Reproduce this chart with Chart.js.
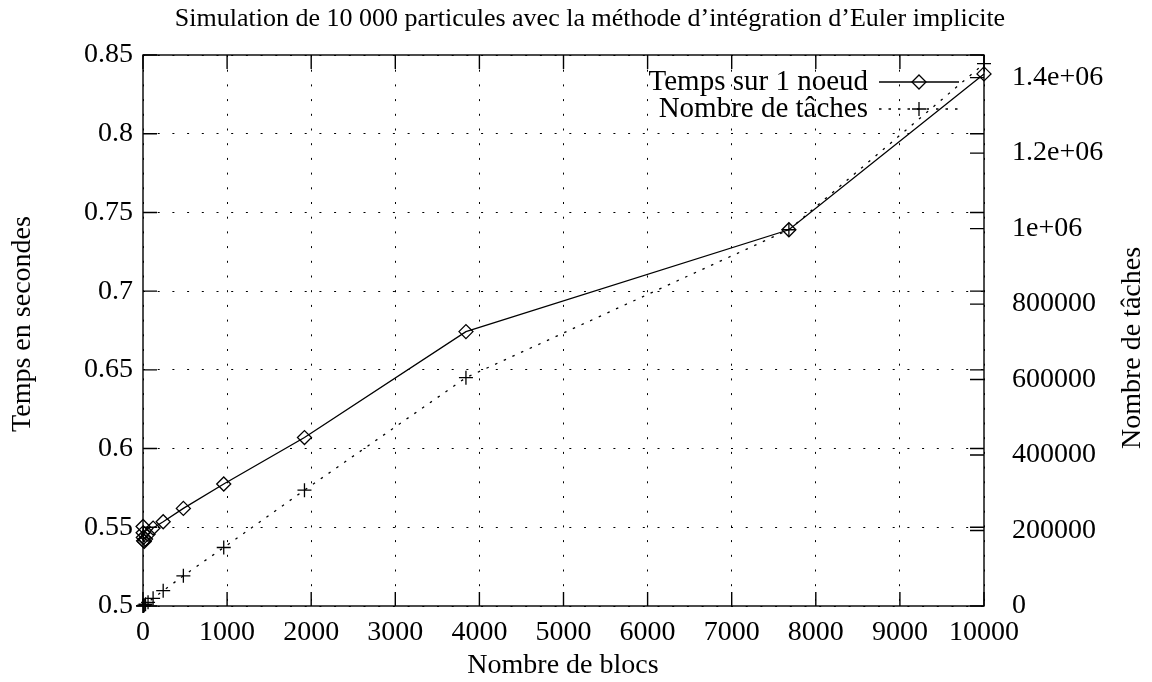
<!DOCTYPE html>
<html>
<head>
<meta charset="utf-8">
<script src="https://cdn.jsdelivr.net/npm/chart.js@4/dist/chart.umd.min.js"></script>
<style>
  html, body { margin: 0; padding: 0; background: #fff; }
  #plot { display: block; }
</style>
</head>
<body>
<canvas id="plot" width="1152" height="682"></canvas>
<script>
// Euler implicite, 10 000 particules : temps sur un noeud et nombre de tâches
const BLOCKS = [1, 2, 4, 8, 15, 30, 60, 120, 240, 480, 960, 1920, 3840, 7680, 10000];
const TIME_1NODE = [0.5505, 0.5465, 0.5435, 0.5415, 0.541, 0.5425, 0.5455, 0.5495, 0.5535, 0.562, 0.5775, 0.607, 0.6743, 0.739, 0.838];
const TASKS = [150, 300, 600, 1200, 2300, 4700, 9800, 20400, 40500, 80000, 155000, 307000, 605000, 997000, 1437000];

const X_TICKS = [0, 1000, 2000, 3000, 4000, 5000, 6000, 7000, 8000, 9000, 10000];
const Y_TICKS = [0.5, 0.55, 0.6, 0.65, 0.7, 0.75, 0.8, 0.85];
const Y2_TICKS = [0, 200000, 400000, 600000, 800000, 1000000, 1200000, 1400000];

const TITLE = 'Simulation de 10 000 particules avec la méthode d’intégration d’Euler implicite';
const X_LABEL = 'Nombre de blocs';
const Y_LABEL = 'Temps en secondes';
const Y2_LABEL = 'Nombre de tâches';
const SERIES_LABELS = ['Temps sur 1 noeud', 'Nombre de tâches'];

const FONT = '"Liberation Serif", "DejaVu Serif", serif';
const FONT_SIZE = 28;
const TICK_LEN = 14;

function fmtY2(v) {
  if (v >= 1e6) return String(+(v / 1e6).toFixed(1)) + 'e+06';
  return String(v);
}

function setTicks(list) {
  return scale => { scale.ticks = list.map(v => ({ value: v })); };
}

function diamond(ctx, x, y, r) {
  ctx.beginPath();
  ctx.moveTo(x, y - r); ctx.lineTo(x + r, y); ctx.lineTo(x, y + r); ctx.lineTo(x - r, y);
  ctx.closePath();
  ctx.stroke();
}

function cross(ctx, x, y, r) {
  ctx.beginPath();
  ctx.moveTo(x - r, y); ctx.lineTo(x + r, y);
  ctx.moveTo(x, y - r); ctx.lineTo(x, y + r);
  ctx.stroke();
}

// frame, inward tick marks, titles and key, drawn the gnuplot way
const gnuplotFrame = {
  id: 'gnuplotFrame',
  afterDatasetsDraw(chart) {
    const { ctx, chartArea: a, scales } = chart;
    ctx.save();
    ctx.strokeStyle = '#000';
    ctx.lineWidth = 1.4;
    ctx.setLineDash([]);
    ctx.strokeRect(a.left, a.top, a.right - a.left, a.bottom - a.top);

    ctx.beginPath();
    X_TICKS.forEach(v => {
      const px = scales.x.getPixelForValue(v);
      ctx.moveTo(px, a.bottom); ctx.lineTo(px, a.bottom - TICK_LEN);
      ctx.moveTo(px, a.top); ctx.lineTo(px, a.top + TICK_LEN);
    });
    Y_TICKS.forEach(v => {
      const py = scales.y.getPixelForValue(v);
      ctx.moveTo(a.left, py); ctx.lineTo(a.left + TICK_LEN, py);
      ctx.moveTo(a.right, py); ctx.lineTo(a.right - TICK_LEN, py);
    });
    Y2_TICKS.forEach(v => {
      const py = scales.y2.getPixelForValue(v);
      ctx.moveTo(a.right, py); ctx.lineTo(a.right - TICK_LEN, py);
    });
    ctx.stroke();

    // key
    ctx.fillStyle = '#000';
    ctx.font = '29px ' + FONT;
    ctx.textAlign = 'right';
    ctx.textBaseline = 'middle';
    const keyX = 868, rows = [82, 109];
    ctx.fillText(SERIES_LABELS[0], keyX, rows[0]);
    ctx.fillText(SERIES_LABELS[1], keyX, rows[1]);
    ctx.lineWidth = 1.3;
    ctx.beginPath(); ctx.moveTo(879, rows[0]); ctx.lineTo(959, rows[0]); ctx.stroke();
    diamond(ctx, 919, rows[0], 7);
    ctx.setLineDash([2.5, 7]);
    ctx.beginPath(); ctx.moveTo(879, rows[1]); ctx.lineTo(959, rows[1]); ctx.stroke();
    ctx.setLineDash([]);
    cross(ctx, 919, rows[1], 7);

    // title and axis names
    ctx.textAlign = 'center';
    ctx.font = '26px ' + FONT;
    ctx.fillText(TITLE, 590, 19);
    ctx.font = FONT_SIZE + 'px ' + FONT;
    ctx.fillText(X_LABEL, 563, 666);
    ctx.save();
    ctx.translate(23, 324); ctx.rotate(-Math.PI / 2);
    ctx.fillText(Y_LABEL, 0, 0);
    ctx.restore();
    ctx.save();
    ctx.translate(1133, 348); ctx.rotate(-Math.PI / 2);
    ctx.fillText(Y2_LABEL, 0, 0);
    ctx.restore();
    ctx.restore();
  }
};

const tickFont = { family: FONT, size: FONT_SIZE };

new Chart(document.getElementById('plot'), {
  type: 'line',
  data: {
    datasets: [
      {
        label: SERIES_LABELS[0],
        data: BLOCKS.map((b, i) => ({ x: b, y: TIME_1NODE[i] })),
        yAxisID: 'y',
        borderColor: '#000',
        borderWidth: 1.3,
        backgroundColor: 'rgba(0,0,0,0)',
        pointStyle: 'rectRot',
        pointRadius: 7,
        pointBorderWidth: 1.3,
        pointBorderColor: '#000',
        pointBackgroundColor: 'rgba(0,0,0,0)',
        tension: 0
      },
      {
        label: SERIES_LABELS[1],
        data: BLOCKS.map((b, i) => ({ x: b, y: TASKS[i] })),
        yAxisID: 'y2',
        borderColor: '#000',
        borderWidth: 1.3,
        borderDash: [2.5, 7],
        pointStyle: 'cross',
        pointRadius: 7,
        pointBorderWidth: 1.3,
        pointBorderColor: '#000',
        tension: 0
      }
    ]
  },
  options: {
    responsive: false,
    animation: false,
    devicePixelRatio: 1,
    events: [],
    clip: false,
    layout: { padding: { top: 55, left: 0, right: 0, bottom: 0 } },
    plugins: { legend: { display: false }, title: { display: false }, tooltip: { enabled: false } },
    scales: {
      x: {
        type: 'linear',
        min: 0, max: 10000,
        afterBuildTicks: setTicks(X_TICKS),
        afterFit: s => { s.height = 76; },
        grid: { color: '#000', lineWidth: 1, drawTicks: false },
        border: { display: false, dash: [2, 12.7] },
        ticks: { color: '#000', font: tickFont, padding: 10, maxRotation: 0, autoSkip: false, callback: v => String(v) }
      },
      y: {
        position: 'left',
        min: 0.5, max: 0.85,
        afterBuildTicks: setTicks(Y_TICKS),
        afterFit: s => { s.width = 143; },
        grid: { color: '#000', lineWidth: 1, drawTicks: false },
        border: { display: false, dash: [2, 12.7] },
        ticks: { color: '#000', font: tickFont, padding: 10, callback: v => String(+v.toFixed(2)) }
      },
      y2: {
        position: 'right',
        min: 0, max: 1460000,
        afterBuildTicks: setTicks(Y2_TICKS),
        afterFit: s => { s.width = 168; },
        grid: { display: false, drawTicks: false },
        border: { display: false },
        ticks: { color: '#000', font: tickFont, padding: 28, callback: fmtY2 }
      }
    }
  },
  plugins: [gnuplotFrame]
});
</script>
</body>
</html>
